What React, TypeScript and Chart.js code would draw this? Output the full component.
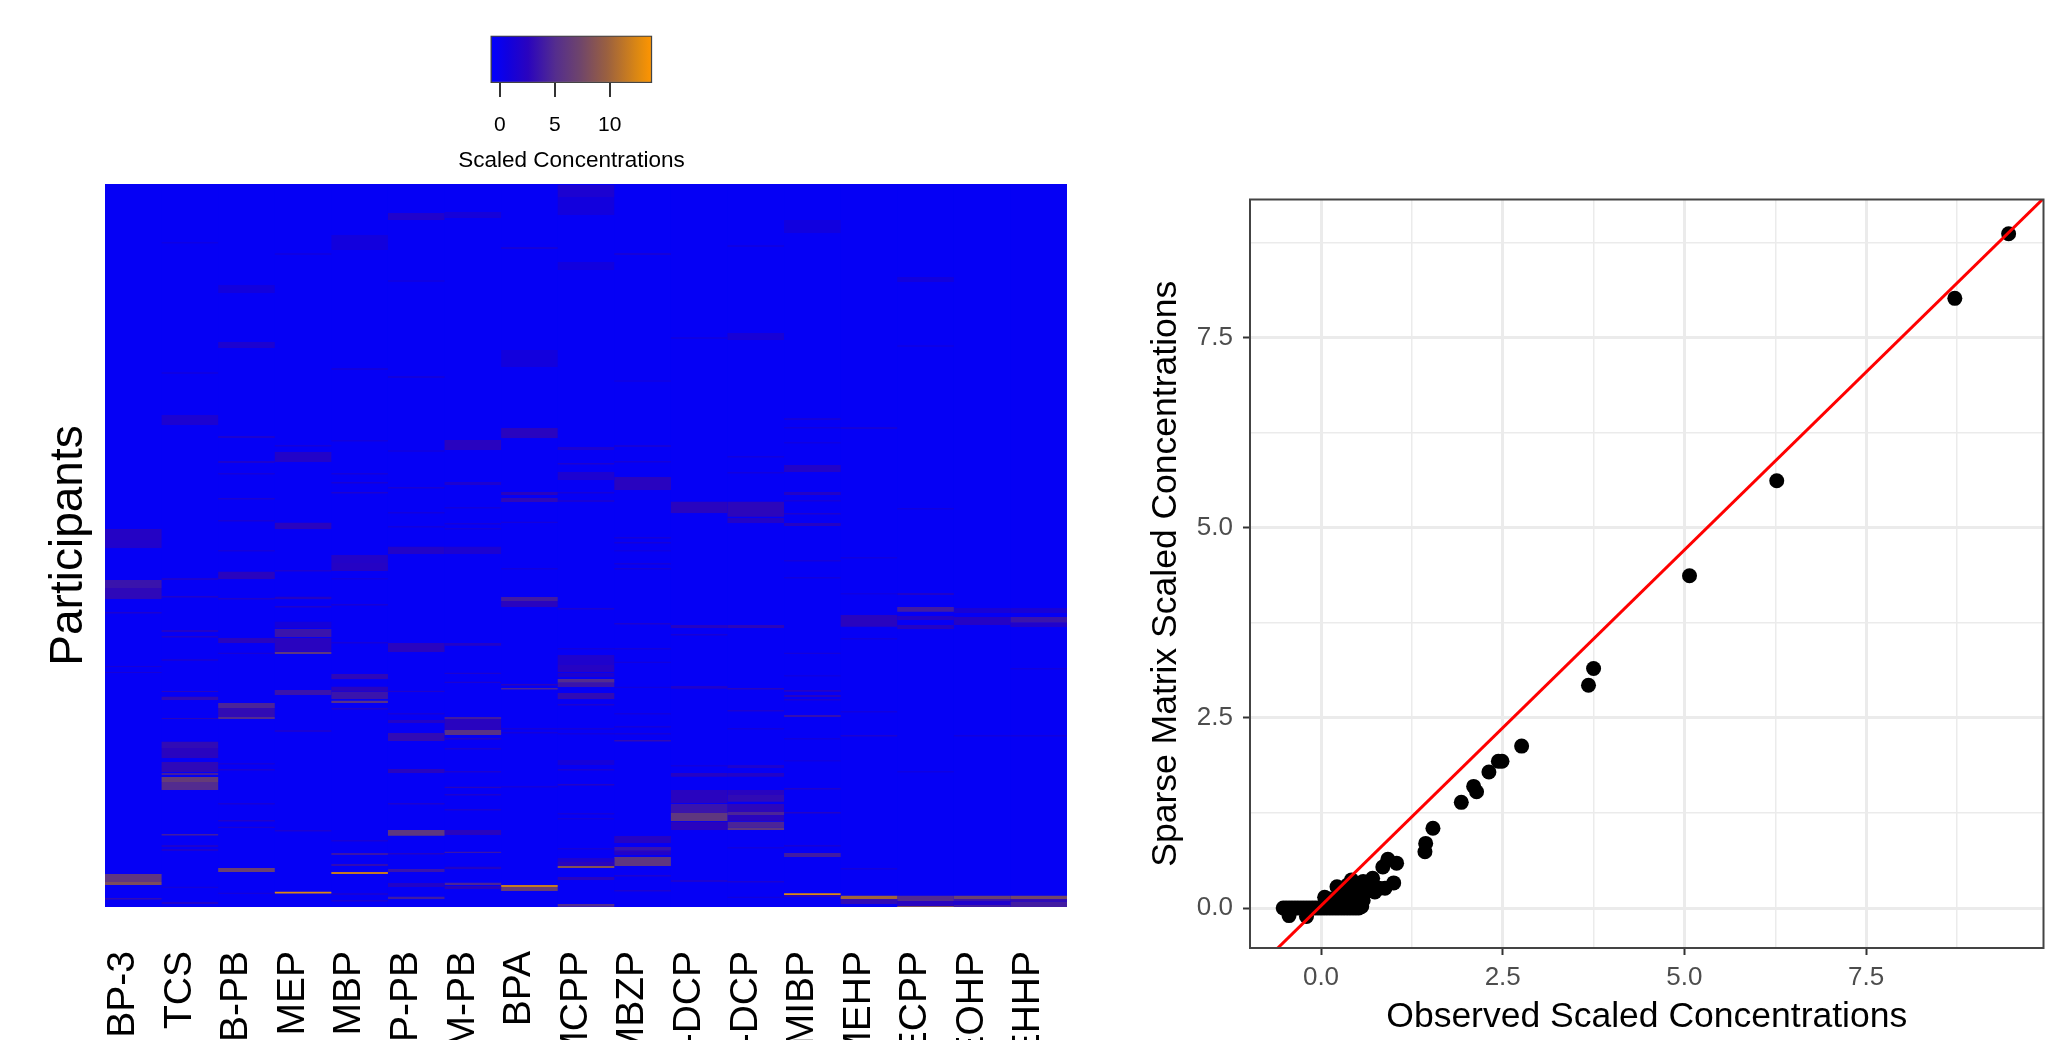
import React, { useEffect, useRef } from "react";
import { Chart, registerables } from "chart.js";

Chart.register(...registerables);

const W = 2057;
const H = 1040;
const FONT = "'Liberation Sans', Arial, sans-serif";

/* ---------- heatmap data: [first row, last row, scaled concentration] ---------- */
const chemicals = ["BP-3", "TCS", "B-PB", "MEP", "MBP", "P-PB", "M-PB", "BPA", "MCPP", "MBZP", "2,5-DCP", "2,4-DCP", "MIBP", "MEHP", "MECPP", "MEOHP", "MEHHP"];
const rowCount = 723;
const baseValue = -0.35;

const bandsBP3 = [[345,356,2.2],[356,364,1.8],[396,404,3.5],[404,415,2.8],[428,429.5,1.5],[482,483,1.2],[488,489,1.2],[690,698,6],[698,701,8],[714,715.5,3]];
const bandsTCS = [[58,59.5,0.5],[188,190,0.5],[231,241,1.5],[394,396,1.5],[412,413.5,1.8],[446,448,2],[452,453.5,1.8],[475,477,1],[507,508,2.5],[512.7,516,3],[534,535,2.5],[557.7,564,3],[564,574,2.5],[578,588,2.8],[589,591,4],[593,598,6.5],[598,606,5],[650,651.5,4],[661,663,1.5],[665,667,1.5],[702.7,704,1],[718,720,2]];
const bandsBPB = [[101,109,0.8],[158,164,1.5],[252,254,1.5],[277,279,1.5],[289,290.5,1],[314,315.5,1.5],[336,337.5,1.2],[366,367.5,1],[387.7,395,2.5],[414,415.5,1.8],[454,459,2.5],[468.7,470,1.2],[519,524,4.5],[524,533,3],[533,535,5],[579,580.5,1],[585,586.5,1.5],[619,620.5,1.2],[636,637.5,1.8],[642.7,644,1.5],[684,688,7],[708.7,710,1]];
const bandsMEP = [[69,71,0.5],[261,262.5,1],[268,278,2],[338.7,345,2.5],[386,387.5,1.5],[412.7,415,2.2],[422,423.5,1.8],[437.7,444,1],[445,453,3.5],[454,467.7,2.5],[468,470,6],[506,511,3.5],[546,548,1.3],[646,647.5,1.5],[707.7,709.5,12.5]];
const bandsMBP = [[51,66,0.8],[184,186,0.8],[256,257.5,0.8],[289,290.5,1],[298,299.5,1.2],[308,309.5,1.5],[371,379,2],[379,387,2.2],[394,395.5,0.8],[420,421.5,1.2],[458,459.5,1],[490,495,2.8],[502.7,507.7,2.5],[508,515,3.5],[516.7,519,5.5],[524,525.5,2],[656,657.5,1.3],[669,671,3.5],[680,682,3],[688,690,11.5],[709,711,1],[716,717.5,1.5]];
const bandsPPB = [[29,36,1.8],[96,98,0.5],[192,194,0.8],[266,268,0.5],[303,304.5,1.3],[328,329.5,0.8],[342,343.5,0.8],[362.7,370,2],[459,468,2.5],[506.7,508,1.8],[529,530.5,1],[536,539,2],[549,557,3],[585,589,2.5],[619,620.5,1.5],[646,651.7,6],[669,670.5,2],[685,688,3.5],[699,703,2],[712.7,715,4]];
const bandsMPB = [[28,34,1],[256,266,2.5],[298,301,1.5],[323,324.5,0.8],[339,340.5,1],[344,345.5,1],[362.7,370,1.5],[459,461.7,2],[488.7,490,1.5],[497.7,499,1.5],[533,535,4],[535,546,2.5],[546,551,5.5],[554,555.5,2],[564,565.5,1.5],[587,588.5,1.5],[602.7,604,2.5],[610,611.5,1.5],[625,626.5,1.5],[646,651,2.5],[667.7,669,3.5],[682.7,685,2],[698.7,701,4.5],[702,705,2.5]];
const bandsBPA = [[63,65,1],[166,183,0.8],[244,254,2.5],[308,311,2.5],[314,318,2.8],[337.7,339,1],[384,385.5,0.8],[413,417,4],[417,423,2.5],[500,501.5,2.5],[504,505.5,4.5],[544,545.5,1],[548,549.5,1],[602,603.5,1],[701,703,11.5],[703,707,6.5]];
const bandsMCPP = [[1,13,1.5],[13,31,0.8],[78,86,0.7],[263,266,1.5],[279,280.5,1.5],[288,296,1.5],[308,309.5,1],[316,318,1.2],[424,425.5,1.5],[464,465.5,0.8],[471,481,1.7],[481,488,2.3],[489,493,1.5],[495,498.7,5],[498.7,503,3.5],[509,515,3],[520,521.5,1.5],[544,545.5,1],[549,550.5,0.8],[576,581,1],[585,586.5,1.5],[600,601.5,2],[629,630.5,1],[634,635.5,1],[664,665.5,1],[674,678,1.5],[678,682,2.5],[682,684,8.5],[693,696,2.5],[720,722.7,5]];
const bandsMBZP = [[69,71,1],[196,198,0.4],[261,263,1],[277,278.5,1],[293,306,2.5],[353,354.5,1],[358,359.5,1],[366,367.5,0.6],[379,380.5,1],[384,385.5,1.2],[439,440.5,1.5],[464,465.5,1],[477.7,479,0.8],[502.7,504,0.8],[529,530.5,0.8],[542,543.5,1],[549,550.5,1],[556,557.5,3],[652,659,2.2],[663,666.7,3.5],[666.7,668.7,2.5],[669,671,2],[673,682,6],[691,692.5,1.5],[706,707.5,1.5]];
const bandsDCP25 = [[153,155,0.5],[317.7,329,2.5],[441,444,2.2],[450,451.5,1.2],[502,504.7,1.8],[581,582.5,0.8],[589,592.7,2.2],[606,611,2.5],[611,619,2.5],[620,629,3.5],[629,637,6],[637.7,646,2.5],[696,698,1.5]];
const bandsDCP24 = [[61,63,0.5],[149,156,1.2],[272,273.5,0.8],[288,289.5,0.8],[317.7,332.7,2.7],[334,339,2],[441,444,2.7],[504,505.5,2.5],[526,527.5,1.5],[544,545.5,0.8],[581,584,1.5],[589,592.7,2],[606,611,2.5],[611,617.7,3],[620,628,2.7],[628,631,4.5],[631,637,2.5],[637.7,643.7,4.5],[643.7,646,6],[663,664.5,0.7],[697,698.5,1.5],[712.7,714,0.8]];
const bandsMIBP = [[36,49,0.7],[234,236,1],[243,244.5,0.8],[258,259.5,0.6],[281,288,2],[308,311,2],[316,317.5,1],[329,330.5,1.5],[339,342,2.2],[376,377.5,1],[393,394.5,0.8],[468.7,470,1],[491,492.5,0.6],[506,507.7,2.2],[511,513,2.2],[515,516.5,1.5],[531,533,3.2],[554,555.5,0.8],[576,577.5,0.6],[604,605.5,1.8],[628,629.5,2],[661,662.5,1.2],[669,673,4],[709.3,711,12.5],[711,713,2.5]];
const bandsMEHP = [[243,245,1],[373,374.5,0.7],[409,410.5,0.6],[431,442.7,2.5],[454,455.5,0.8],[527,528.5,0.8],[551,552.5,1.5],[684,685.5,1],[711.7,715,10],[715,720,3]];
const bandsMECPP = [[93,98,0.8],[161,163,0.4],[324,325.5,0.7],[409,411,1.7],[423,427.7,4],[432,436,2],[441,445,2.2],[587,588.5,0.6],[711.7,717,5],[717,722,2.5],[722,723,8]];
const bandsMEOHP = [[424,429,1.3],[433,441,2.2],[551,552.5,0.8],[711.7,715,7],[715,717,3.5],[717,721,1.8],[721,723,4]];
const bandsMEHHP = [[424,429,1.3],[433,438.7,3.5],[438.7,443,1.8],[484,485.5,0.8],[551,552.5,0.8],[711.7,715,7.5],[715,717.7,3],[717.7,723,4]];

const bandColumns = [bandsBP3, bandsTCS, bandsBPB, bandsMEP, bandsMBP, bandsPPB, bandsMPB, bandsBPA, bandsMCPP, bandsMBZP, bandsDCP25, bandsDCP24, bandsMIBP, bandsMEHP, bandsMECPP, bandsMEOHP, bandsMEHHP];

/* ---------- colour scale ---------- */
const scaleMin = -0.8;
const scaleMax = 13.8;
const colorStops: [number, number[]][] = [
  [0, [0, 0, 255]],
  [0.1, [16, 0, 224]],
  [0.23, [42, 4, 190]],
  [0.4, [84, 45, 142]],
  [0.55, [110, 68, 108]],
  [0.72, [154, 96, 64]],
  [0.92, [224, 138, 16]],
  [1, [255, 149, 0]],
];
function colorAt(t: number) {
  for (let i = 1; i < colorStops.length; i++) {
    const [t1, c1] = colorStops[i];
    if (t <= t1) {
      const [t0, c0] = colorStops[i - 1];
      const f = (t - t0) / (t1 - t0);
      const m = c0.map((c, k) => Math.round(c + (c1[k] - c) * f));
      return `rgb(${m[0]},${m[1]},${m[2]})`;
    }
  }
  return "rgb(255,149,0)";
}
const colorFor = (v: number) => colorAt((v - scaleMin) / (scaleMax - scaleMin));

/* ---------- scatter data ---------- */
const observed = [9.46,8.72,6.27,5.07,3.75,3.68,2.76,2.49,2.44,2.31,2.14,2.10,1.93,1.54,1.44,1.43,1.04,0.92,0.85,1.00,0.88,0.74,0.71,0.58,0.42,0.22,0.05,0.56,0.58,-0.44,-0.52,-0.2,-0.48,-0.44,-0.40,-0.36,-0.32,-0.28,-0.24,-0.20,-0.16,-0.12,-0.08,-0.04,0.00,0.04,0.08,0.12,0.16,0.20,0.24,0.28,0.32,0.36,0.40,0.44,0.48,0.52,0.10,0.15,0.20,0.25,0.30,0.35,0.40,0.45,0.50,0.55,0.60,0.30,0.35,0.40,0.45,0.50,0.55,0.65,0.70,0.12,0.28,0.36,0.44,0.62,0.80];
const sparse = [8.87,8.02,5.62,4.37,3.15,2.93,2.13,1.93,1.93,1.79,1.53,1.60,1.39,1.05,0.85,0.74,0.59,0.64,0.54,0.33,0.26,0.21,0.39,0.35,0.37,0.28,0.14,0.02,0.10,-0.10,0,-0.11,0,0,0,0,0,0,0,0,0,0,0,0,0,0,0,0,0,0,0,0,0,0,0,0,0,0,0.05,0.05,0.06,0.08,0.10,0.08,0.12,0.10,0.15,0.12,0.20,0.20,0.24,0.28,0.22,0.18,0.26,0.30,0.32,0.12,0.14,0.30,0.30,0.24,0.26];
const fitX = [-1, 10.5];
const fitY = [-0.906, 9.858];
const gridValuesX = [0, 1.25, 2.5, 3.75, 5, 6.25, 7.5, 8.75];
const gridValuesY = [0, 1.25, 2.5, 3.75, 5, 6.25, 7.5, 8.75];
const legendTicks = [0, 5, 10];

const isMajor = (v: number) => Math.abs(v / 2.5 - Math.round(v / 2.5)) < 1e-6;

const plotBackground = {
  id: "plotBackground",
  beforeDatasetsDraw(chart: any) {
    const { ctx, chartArea: a } = chart;
    ctx.save();
    ctx.fillStyle = colorFor(baseValue);
    ctx.fillRect(a.left, a.top, a.right - a.left, a.bottom - a.top);
    ctx.restore();
  },
};

function heatmapConfig(): any {
  const datasets: any[] = bandColumns.map((bands, i) => ({
    data: bands.map((b) => ({ x: chemicals[i], y: [b[0], b[1]] })),
    backgroundColor: bands.map((b) => colorFor(b[2])),
  }));
  datasets.push({
    data: chemicals.map((c) => ({ x: c, y: [0, rowCount] })),
    backgroundColor: colorFor(baseValue),
  });
  return {
    type: "bar",
    data: { labels: chemicals, datasets },
    plugins: [plotBackground],
    options: {
      animation: false,
      responsive: false,
      devicePixelRatio: 1,
      layout: { padding: { left: 0, top: 184, right: W - 1067, bottom: 0 } },
      plugins: { legend: { display: false }, tooltip: { enabled: false } },
      datasets: { bar: { grouped: false, barPercentage: 1, categoryPercentage: 1, borderWidth: 0, borderSkipped: false, inflateAmount: 0 } },
      scales: {
        x: {
          type: "category",
          grid: { display: false },
          border: { display: false },
          afterFit: (s: any) => { s.height = H - 907; },
          ticks: { autoSkip: false, minRotation: 90, maxRotation: 90, padding: 36, labelOffset: -10, color: "#000", font: { family: FONT, size: 39 } },
        },
        y: {
          min: 0,
          max: rowCount,
          reverse: true,
          grid: { display: false },
          border: { display: false },
          ticks: { display: false },
          afterFit: (s: any) => { s.width = 105; },
          title: { display: true, text: "Participants", color: "#000", padding: { top: 42, bottom: 0 }, font: { family: FONT, size: 46 } },
        },
      },
    },
  };
}

const panelBorder = {
  id: "panelBorder",
  afterDraw(chart: any) {
    const { ctx, chartArea: a } = chart;
    ctx.save();
    ctx.strokeStyle = "#444";
    ctx.lineWidth = 2;
    ctx.strokeRect(a.left, a.top, a.right - a.left, a.bottom - a.top);
    ctx.restore();
  },
};

function scatterConfig(): any {
  const grid = {
    color: "#EBEBEB",
    lineWidth: (c: any) => (isMajor(c.tick.value) ? 3 : 1.5),
    tickColor: (c: any) => (isMajor(c.tick.value) ? "#333" : "rgba(0,0,0,0)"),
    tickWidth: 2,
    tickLength: 7,
  };
  const label = (v: any) => (isMajor(Number(v)) ? Number(v).toFixed(1) : "");
  return {
    type: "scatter",
    data: {
      datasets: [
        {
          type: "line",
          data: fitX.map((x, i) => ({ x, y: fitY[i] })),
          borderColor: "#FF0000",
          borderWidth: 3,
          pointRadius: 0,
          tension: 0,
        },
        {
          data: observed.map((x, i) => ({ x, y: sparse[i] })),
          backgroundColor: "#000",
          borderWidth: 0,
          pointRadius: 7.5,
        },
      ],
    },
    options: {
      animation: false,
      responsive: false,
      devicePixelRatio: 1,
      layout: { padding: { left: 0, top: 199.5, right: W - 2043.5, bottom: 0 } },
      plugins: { legend: { display: false }, tooltip: { enabled: false } },
      scales: {
        x: {
          type: "linear",
          min: -0.977,
          max: 9.94,
          grid,
          border: { display: false },
          afterBuildTicks: (s: any) => { s.ticks = gridValuesX.map((value) => ({ value })); },
          afterFit: (s: any) => { s.height = H - 948; },
          ticks: { autoSkip: false, maxRotation: 0, padding: 7, color: "#4D4D4D", font: { family: FONT, size: 26 }, callback: label },
          title: { display: true, text: "Observed Scaled Concentrations", color: "#000", padding: { top: 0, bottom: 1.7 }, font: { family: FONT, size: 35.5 } },
        },
        y: {
          type: "linear",
          min: -0.526,
          max: 9.32,
          grid,
          border: { display: false },
          afterBuildTicks: (s: any) => { s.ticks = gridValuesY.map((value) => ({ value })); },
          afterFit: (s: any) => { s.width = 1250; },
          ticks: { autoSkip: false, padding: 10, color: "#4D4D4D", font: { family: FONT, size: 26 }, callback: label },
          title: { display: true, text: "Sparse Matrix Scaled Concentrations", color: "#000", padding: { top: 1144.5, bottom: 0 }, font: { family: FONT, size: 35.5 } },
        },
      },
    },
    plugins: [panelBorder],
  };
}

function legendConfig(ctx: CanvasRenderingContext2D): any {
  const gradient = ctx.createLinearGradient(491, 0, 652, 0);
  colorStops.forEach(([t, c]) => gradient.addColorStop(t, `rgb(${c[0]},${c[1]},${c[2]})`));
  return {
    type: "bar",
    data: {
      labels: ["Scaled Concentrations"],
      datasets: [
        {
          data: [[scaleMin - 0.05, scaleMax + 0.05]],
          backgroundColor: gradient,
          borderColor: "#444",
          borderWidth: 1.5,
          borderSkipped: false,
          barPercentage: 1,
          categoryPercentage: 1,
        },
      ],
    },
    options: {
      indexAxis: "y",
      animation: false,
      responsive: false,
      devicePixelRatio: 1,
      layout: { padding: { left: 440, top: 35.5, right: W - 703, bottom: H - 190 } },
      plugins: { legend: { display: false }, tooltip: { enabled: false } },
      scales: {
        y: { display: false },
        x: {
          type: "linear",
          min: -5.46,
          max: 18.49,
          grid: { drawOnChartArea: false, color: "#333", lineWidth: 2, tickLength: 14 },
          border: { display: false },
          afterBuildTicks: (s: any) => { s.ticks = legendTicks.map((value) => ({ value })); },
          afterFit: (s: any) => { s.height = 107; },
          ticks: { padding: 16, color: "#000", maxRotation: 0, font: { family: FONT, size: 21 } },
          title: { display: true, text: "Scaled Concentrations", color: "#000", padding: { top: 0, bottom: 16 }, font: { family: FONT, size: 22.5 } },
        },
      },
    },
  };
}

export default function App() {
  const heatRef = useRef<HTMLCanvasElement>(null);
  const scatterRef = useRef<HTMLCanvasElement>(null);
  const legendRef = useRef<HTMLCanvasElement>(null);

  useEffect(() => {
    const charts = [
      new Chart(heatRef.current as any, heatmapConfig()),
      new Chart(scatterRef.current as any, scatterConfig()),
      new Chart(legendRef.current as any, legendConfig((legendRef.current as any).getContext("2d"))),
    ];
    return () => charts.forEach((c) => c.destroy());
  }, []);

  const style: React.CSSProperties = { position: "absolute", left: 0, top: 0, width: W, height: H, display: "block" };
  return (
    <div style={{ position: "absolute", left: 0, top: 0, width: W, height: H, overflow: "hidden", background: "#fff" }}>
      <canvas ref={heatRef} width={W} height={H} style={style} />
      <canvas ref={scatterRef} width={W} height={H} style={style} />
      <canvas ref={legendRef} width={W} height={H} style={style} />
    </div>
  );
}
